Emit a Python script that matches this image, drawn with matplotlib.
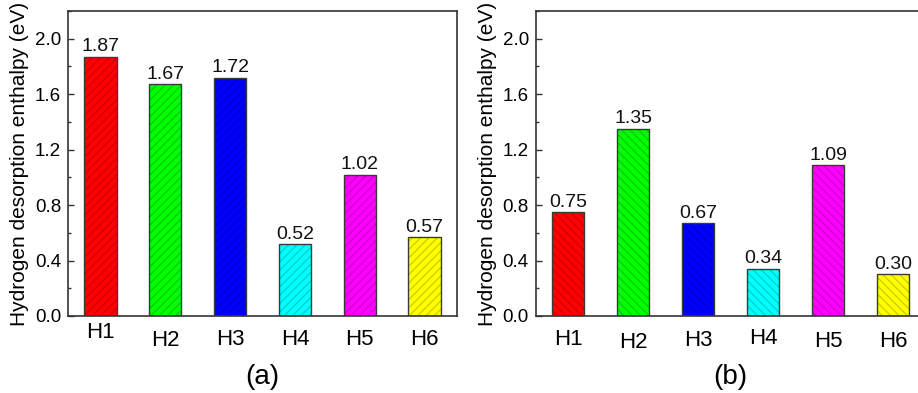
import matplotlib
matplotlib.use("Agg")
import matplotlib.pyplot as plt
import matplotlib.transforms as mtransforms
from matplotlib.colors import to_rgb
from matplotlib.ticker import MultipleLocator

plt.rcParams['font.family'] = ['Liberation Sans', 'DejaVu Sans']
plt.rcParams['hatch.linewidth'] = 0.9

categories = ["H1", "H2", "H3", "H4", "H5", "H6"]
values_a = [1.87, 1.67, 1.72, 0.52, 1.02, 0.57]
values_b = [0.75, 1.35, 0.67, 0.34, 1.09, 0.30]
labels_a = ["1.87", "1.67", "1.72", "0.52", "1.02", "0.57"]
labels_b = ["0.75", "1.35", "0.67", "0.34", "1.09", "0.30"]
colors = ["#ff0000", "#00ff00", "#0000ff", "#00ffff", "#ff00ff", "#ffff00"]
yticks = [0.0, 0.4, 0.8, 1.2, 1.6, 2.0]
ylabel = "Hydrogen desorption enthalpy (eV)"
panel_titles = ["(a)", "(b)"]

# per-label vertical offsets (pixels) mimicking the original's label placement
xlabel_offsets_a = [8, 0, 1, 1, 1, 1]
xlabel_offsets_b = [1, -2, 0, 2, -1, -1]

W, H = 918, 393
fig = plt.figure(figsize=(W / 100, H / 100), dpi=100)

def darker(c, f=0.8):
    r, g, b = to_rgb(c)
    return (r * f, g * f, b * f)

def panel(rect, vals, labs, hatch, offsets, title):
    ax = fig.add_axes(rect)
    x = list(range(1, len(categories) + 1))
    for xi, v, c in zip(x, vals, colors):
        ax.bar(xi, v, width=0.5, color=c, edgecolor=darker(c), linewidth=0,
               hatch=hatch, zorder=2)
    ax.bar(x, vals, width=0.5, fill=False, edgecolor="#3a3a3a", linewidth=1.0,
           zorder=3)
    for xi, v, s in zip(x, vals, labs):
        ax.text(xi, v + 0.01, s, ha="center", va="bottom", fontsize=14,
                color="#111111")
    ax.set_xlim(0.5, 6.5)
    ax.set_ylim(0, 2.2)
    ax.set_yticks(yticks)
    ax.set_yticklabels([f"{t:.1f}" for t in yticks])
    ax.yaxis.set_minor_locator(MultipleLocator(0.2))
    ax.set_xticks(x)
    ax.set_xticklabels(categories, fontsize=16)
    ax.tick_params(axis="y", which="major", direction="in", length=4,
                   width=1, labelsize=13.5, pad=5, color="#333333")
    ax.tick_params(axis="y", which="minor", direction="in", length=2.5,
                   width=1, color="#333333")
    ax.tick_params(axis="x", which="major", direction="in", length=4,
                   width=1, pad=10, color="#333333")
    for lab, off in zip(ax.get_xticklabels(), offsets):
        lab.set_transform(lab.get_transform() +
                          mtransforms.ScaledTranslation(0, off / 100,
                                                        fig.dpi_scale_trans))
    for sp in ax.spines.values():
        sp.set_color("#333333")
        sp.set_linewidth(1.2)
    ax.set_ylabel(ylabel, fontsize=15, labelpad=4)
    ax.text(0.5, -0.2, title, transform=ax.transAxes, ha="center",
            va="center", fontsize=20)
    return ax

ya = (H - 316) / H
ht = (316 - 11) / H
panel([68 / W, ya, (457 - 68) / W, ht], values_a, labels_a, "////",
      xlabel_offsets_a, panel_titles[0])
panel([535.7 / W, ya, (925.5 - 535.7) / W, ht], values_b, labels_b, "\\\\\\\\",
      xlabel_offsets_b, panel_titles[1])

fig.savefig("out.png", dpi=100)
